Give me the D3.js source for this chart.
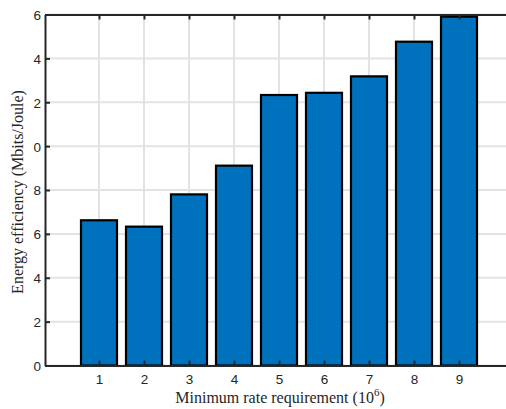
<!DOCTYPE html>
<html>
<head>
<meta charset="utf-8">
<script src="https://cdn.jsdelivr.net/npm/d3@7"></script>
<style>
  html, body { margin: 0; padding: 0; background: #fff; }
  svg { display: block; }
</style>
</head>
<body>
<svg id="chart" width="506" height="409"></svg>
<script>
// ---- data ----
const categories = [1, 2, 3, 4, 5, 6, 7, 8, 9];
const efficiency = [6.62, 6.33, 7.80, 9.11, 12.33, 12.43, 13.18, 14.76, 15.90];
const yTickValues = [0, 2, 4, 6, 8, 10, 12, 14, 16];
const yTickLabels = ["0", "2", "4", "6", "8", "0", "2", "4", "6"];
const xTickLabels = ["1", "2", "3", "4", "5", "6", "7", "8", "9"];

(function () {
// ---- layout ----
const svg = d3.select("#chart");
const mLeft = 45, mTop = 14.5, mBottom = 365.5;
const x = d3.scaleLinear().domain([-0.2, 10.2]).range([mLeft, mLeft + 10.4 * 45]);
const y = d3.scaleLinear().domain([0, 16]).range([mBottom, mTop]);
const axisColor = "#262626";
const gridColor = "#e3e3e3";

// grid
const g = svg.append("g");
g.selectAll("line.vg").data(categories).enter().append("line")
  .attr("x1", d => x(d)).attr("x2", d => x(d))
  .attr("y1", y(0)).attr("y2", y(16))
  .attr("stroke", gridColor).attr("stroke-width", 2);
g.selectAll("line.hg").data(yTickValues).enter().append("line")
  .attr("x1", x(-0.2)).attr("x2", x(10.2))
  .attr("y1", d => y(d)).attr("y2", d => y(d))
  .attr("stroke", gridColor).attr("stroke-width", 2);

// bars
const bw = 0.8;
svg.append("g").selectAll("rect").data(categories).enter().append("rect")
  .attr("x", d => x(d - bw / 2))
  .attr("width", x(bw) - x(0))
  .attr("y", (d, i) => y(efficiency[i]))
  .attr("height", (d, i) => y(0) - y(efficiency[i]))
  .attr("fill", "#0072BD")
  .attr("stroke", "#000")
  .attr("stroke-width", 2.2);

// axes
const xAxis = d3.axisBottom(x).tickValues(categories)
  .tickFormat((d, i) => xTickLabels[i]).tickSizeInner(-5).tickSizeOuter(0).tickPadding(9);
const xa = svg.append("g").attr("transform", `translate(0,${mBottom})`).call(xAxis);
const xTop = d3.axisTop(x).tickValues(categories).tickFormat("").tickSizeInner(-5).tickSizeOuter(0);
const xt = svg.append("g").attr("transform", `translate(0,${mTop})`).call(xTop);
const yAxis = d3.axisLeft(y).tickValues(yTickValues)
  .tickFormat((d, i) => yTickLabels[i]).tickSizeInner(-5).tickSizeOuter(0).tickPadding(4);
const ya = svg.append("g").attr("transform", `translate(${mLeft},0)`).call(yAxis);

[xa, xt, ya].forEach(a => {
  a.select(".domain").attr("stroke", axisColor).attr("stroke-width", 2);
  a.selectAll(".tick line").attr("stroke", axisColor).attr("stroke-width", 2);
  a.selectAll(".tick text").attr("fill", axisColor)
    .attr("font-family", "Liberation Sans, Arial, sans-serif").attr("font-size", 13.5);
});
ya.selectAll(".tick text").attr("dy", "0.36em");

// axis labels
svg.append("text")
  .attr("x", 280).attr("y", 403)
  .attr("text-anchor", "middle")
  .attr("font-family", "Liberation Serif, Times New Roman, serif")
  .attr("font-size", 16).attr("fill", axisColor)
  .call(t => {
    t.append("tspan").text("Minimum rate requirement (10");
    t.append("tspan").attr("dy", -7).attr("font-size", 11).text("6");
    t.append("tspan").attr("dy", 7).text(")");
  });

svg.append("text")
  .attr("transform", "translate(23,192) rotate(-90)")
  .attr("text-anchor", "middle")
  .attr("font-family", "Liberation Serif, Times New Roman, serif")
  .attr("font-size", 16).attr("fill", axisColor)
  .text("Energy efficiency (Mbits/Joule)");
})();
</script>
</body>
</html>
